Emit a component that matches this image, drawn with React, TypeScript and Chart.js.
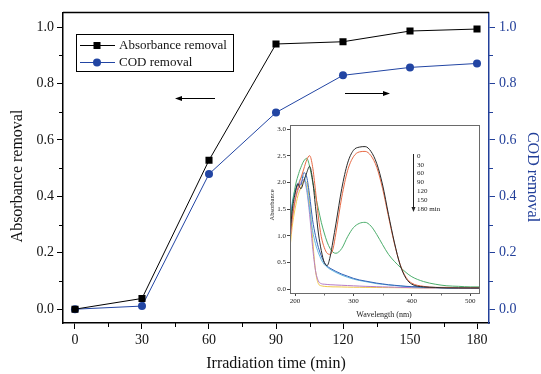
import React, { useEffect, useRef } from "react";
import { Chart, registerables } from "chart.js";
Chart.register(...registerables);

// ---- main chart data ----
const times = [0, 30, 60, 90, 120, 150, 180];
const absorbanceRemoval = [0, 0.038, 0.528, 0.94, 0.948, 0.986, 0.993];
const codRemoval = [0, 0.011, 0.479, 0.697, 0.829, 0.857, 0.871];
const xMajorTicks = [0, 30, 60, 90, 120, 150, 180];
const xMinorTicks = [15, 45, 75, 105, 135, 165];
const yMajorTicks = [0, 0.2, 0.4, 0.6, 0.8, 1.0];
const yMinorTicks = [0.1, 0.3, 0.5, 0.7, 0.9];

// ---- inset spectra data ----
const wavelengths = [190, 195, 200, 205, 210, 215, 220, 225, 230, 235, 240, 245, 250, 255, 260, 265, 270, 280, 290, 300, 310, 320, 330, 340, 350, 360, 370, 380, 390, 400, 420, 440, 460, 480, 500, 515];
const spec0 = [0.8, 1.45, 1.78, 1.97, 1.88, 2.02, 2.18, 2.3, 2.05, 1.55, 1.05, 0.72, 0.5, 0.44, 0.6, 0.9, 1.22, 1.88, 2.36, 2.6, 2.66, 2.67, 2.58, 2.35, 1.95, 1.4, 0.88, 0.45, 0.2, 0.09, 0.04, 0.03, 0.02, 0.02, 0.02, 0.02];
const spec30 = [0.75, 1.3, 1.65, 1.9, 2.08, 2.25, 2.42, 2.5, 2.3, 1.85, 1.35, 0.98, 0.78, 0.67, 0.65, 0.75, 1.05, 1.72, 2.22, 2.48, 2.57, 2.58, 2.5, 2.28, 1.88, 1.36, 0.86, 0.46, 0.22, 0.11, 0.05, 0.03, 0.03, 0.02, 0.02, 0.02];
const spec60 = [0.85, 1.5, 1.9, 2.12, 2.28, 2.4, 2.45, 2.3, 2.02, 1.75, 1.5, 1.25, 1.05, 0.88, 0.76, 0.69, 0.67, 0.76, 0.98, 1.15, 1.23, 1.25, 1.18, 1.02, 0.83, 0.65, 0.52, 0.41, 0.31, 0.23, 0.14, 0.09, 0.06, 0.05, 0.04, 0.04];
const spec90 = [0.9, 1.55, 1.8, 1.98, 1.95, 2.18, 2.1, 1.75, 1.3, 1.0, 0.78, 0.62, 0.5, 0.43, 0.39, 0.36, 0.33, 0.28, 0.24, 0.2, 0.17, 0.15, 0.13, 0.11, 0.095, 0.08, 0.07, 0.06, 0.05, 0.045, 0.035, 0.028, 0.022, 0.017, 0.013, 0.012];
const spec120 = [0.95, 1.6, 1.85, 1.95, 2.08, 2.1, 1.9, 1.5, 1.1, 0.85, 0.68, 0.55, 0.46, 0.41, 0.37, 0.34, 0.31, 0.26, 0.22, 0.185, 0.16, 0.14, 0.12, 0.1, 0.088, 0.076, 0.066, 0.056, 0.048, 0.042, 0.032, 0.025, 0.02, 0.016, 0.012, 0.011];
const spec150 = [0.7, 1.3, 1.65, 1.85, 2.0, 2.05, 1.85, 1.4, 0.8, 0.35, 0.15, 0.1, 0.09, 0.085, 0.08, 0.078, 0.075, 0.07, 0.065, 0.06, 0.055, 0.05, 0.047, 0.043, 0.04, 0.037, 0.034, 0.03, 0.028, 0.025, 0.02, 0.018, 0.015, 0.013, 0.012, 0.012];
const spec180 = [0.6, 1.15, 1.5, 1.75, 1.9, 2.02, 2.0, 1.6, 0.95, 0.35, 0.1, 0.06, 0.05, 0.045, 0.043, 0.04, 0.04, 0.038, 0.035, 0.033, 0.032, 0.03, 0.03, 0.028, 0.027, 0.026, 0.025, 0.024, 0.023, 0.022, 0.021, 0.02, 0.02, 0.02, 0.02, 0.02];
const spectra = [spec0, spec30, spec60, spec90, spec120, spec150, spec180];
const specLabels = ["0", "30", "60", "90", "120", "150", "180 min"];
const insetXMajor = [200, 300, 400, 500];
const insetXMinor = [250, 350, 450];
const insetYMajor = [0, 0.5, 1.0, 1.5, 2.0, 2.5, 3.0];

// ---- styles ----
const SERIF = '"Liberation Serif", "Times New Roman", serif';
const BLUE = "#2245a3";
const AXIS_BLUE = "#23409a";
const specColors = ["#2a2a2a", "#e86a45", "#4cae6c", "#3563b8", "#62b8e2", "#b67cc6", "#f1c84a"];

export default function App() {
  const mainRef = useRef<HTMLCanvasElement>(null);
  const insetRef = useRef<HTMLCanvasElement>(null);

  useEffect(() => {
    const mainDecor = {
      id: "mainDecor",
      afterDraw(chart: any) {
        const ctx = chart.ctx;
        const a = chart.chartArea;
        const xs = chart.scales.x;
        const ys = chart.scales.y;
        ctx.save();
        // top frame
        ctx.strokeStyle = "#000";
        ctx.lineWidth = 1.5;
        ctx.beginPath();
        ctx.moveTo(a.left, a.top);
        ctx.lineTo(a.right, a.top);
        ctx.stroke();
        // minor ticks
        ctx.lineWidth = 1;
        ctx.beginPath();
        xMinorTicks.forEach((v) => {
          const px = Math.round(xs.getPixelForValue(v)) + 0.5;
          ctx.moveTo(px, a.bottom);
          ctx.lineTo(px, a.bottom + 4);
        });
        yMinorTicks.forEach((v) => {
          const py = Math.round(ys.getPixelForValue(v)) + 0.5;
          ctx.moveTo(a.left - 4, py);
          ctx.lineTo(a.left, py);
        });
        ctx.stroke();
        ctx.strokeStyle = AXIS_BLUE;
        ctx.beginPath();
        yMinorTicks.forEach((v) => {
          const py = Math.round(chart.scales.y2.getPixelForValue(v)) + 0.5;
          ctx.moveTo(a.right, py);
          ctx.lineTo(a.right + 4, py);
        });
        ctx.stroke();

        // legend box
        ctx.strokeStyle = "#000";
        ctx.lineWidth = 1;
        ctx.strokeRect(76.5, 34.5, 157, 37);
        ctx.beginPath();
        ctx.moveTo(80, 45.5);
        ctx.lineTo(115, 45.5);
        ctx.stroke();
        ctx.fillStyle = "#000";
        ctx.fillRect(93.5, 42, 7, 7);
        ctx.strokeStyle = BLUE;
        ctx.beginPath();
        ctx.moveTo(80, 62.5);
        ctx.lineTo(115, 62.5);
        ctx.stroke();
        ctx.fillStyle = BLUE;
        ctx.beginPath();
        ctx.arc(97, 62.5, 4, 0, Math.PI * 2);
        ctx.fill();
        ctx.fillStyle = "#111";
        ctx.font = `13px ${SERIF}`;
        ctx.textAlign = "left";
        ctx.textBaseline = "middle";
        ctx.fillText("Absorbance removal", 119, 45.5);
        ctx.fillText("COD removal", 119, 62.5);

        // arrows
        ctx.strokeStyle = "#000";
        ctx.fillStyle = "#000";
        ctx.beginPath();
        ctx.moveTo(179, 98.5);
        ctx.lineTo(215, 98.5);
        ctx.stroke();
        ctx.beginPath();
        ctx.moveTo(175, 98.5);
        ctx.lineTo(182, 96);
        ctx.lineTo(182, 101);
        ctx.closePath();
        ctx.fill();
        ctx.beginPath();
        ctx.moveTo(345, 93.5);
        ctx.lineTo(385, 93.5);
        ctx.stroke();
        ctx.beginPath();
        ctx.moveTo(390, 93.5);
        ctx.lineTo(383, 91);
        ctx.lineTo(383, 96);
        ctx.closePath();
        ctx.fill();

        // axis titles
        ctx.font = `16px ${SERIF}`;
        ctx.textAlign = "center";
        ctx.textBaseline = "middle";
        ctx.fillStyle = "#111";
        ctx.fillText("Irradiation time (min)", 276, 364);
        ctx.save();
        ctx.translate(18, 176);
        ctx.rotate(-Math.PI / 2);
        ctx.fillText("Absorbance removal", 0, 0);
        ctx.restore();
        ctx.save();
        ctx.translate(532, 177);
        ctx.rotate(Math.PI / 2);
        ctx.fillStyle = AXIS_BLUE;
        ctx.fillText("COD removal", 0, 0);
        ctx.restore();
        ctx.restore();
      },
    };

    const tickFont = { family: SERIF, size: 14 };
    const main = new Chart(mainRef.current!, {
      type: "line",
      data: {
        datasets: [
          {
            label: "Absorbance removal",
            data: times.map((t, i) => ({ x: t, y: absorbanceRemoval[i] })),
            yAxisID: "y",
            borderColor: "#000",
            backgroundColor: "#000",
            borderWidth: 1,
            pointStyle: "rect",
            pointRadius: 5,
            pointBorderWidth: 0,
          },
          {
            label: "COD removal",
            data: times.map((t, i) => ({ x: t, y: codRemoval[i] })),
            yAxisID: "y2",
            borderColor: BLUE,
            backgroundColor: BLUE,
            borderWidth: 1,
            pointStyle: "circle",
            pointRadius: 4,
            pointBorderWidth: 0,
          },
        ],
      },
      options: {
        responsive: false,
        animation: false,
        devicePixelRatio: 1,
        layout: { padding: { top: 8, left: 0, right: 0, bottom: 0 } },
        plugins: { legend: { display: false }, tooltip: { enabled: false } },
        scales: {
          x: {
            type: "linear",
            min: -5.37,
            max: 185.37,
            afterBuildTicks: (s: any) => {
              s.ticks = xMajorTicks.map((v) => ({ value: v }));
            },
            afterFit: (s: any) => {
              s.height = 51;
            },
            grid: { drawOnChartArea: false, drawTicks: true, tickLength: 6, tickColor: "#000" },
            border: { display: true, color: "#000", width: 1.5 },
            ticks: { font: tickFont, color: "#111", padding: 3, maxRotation: 0 },
          },
          y: {
            type: "linear",
            position: "left",
            min: -0.049,
            max: 1.052,
            afterBuildTicks: (s: any) => {
              s.ticks = yMajorTicks.map((v) => ({ value: v }));
            },
            afterFit: (s: any) => {
              s.width = 63;
            },
            grid: { drawOnChartArea: false, drawTicks: true, tickLength: 6, tickColor: "#000" },
            border: { display: true, color: "#000", width: 1.5 },
            ticks: { font: tickFont, color: "#111", padding: 3, callback: (v: any) => Number(v).toFixed(1) },
          },
          y2: {
            type: "linear",
            position: "right",
            min: -0.049,
            max: 1.052,
            afterBuildTicks: (s: any) => {
              s.ticks = yMajorTicks.map((v) => ({ value: v }));
            },
            afterFit: (s: any) => {
              s.width = 52;
            },
            grid: { drawOnChartArea: false, drawTicks: true, tickLength: 6, tickColor: AXIS_BLUE },
            border: { display: true, color: AXIS_BLUE, width: 1.5 },
            ticks: { font: tickFont, color: AXIS_BLUE, padding: 4, callback: (v: any) => Number(v).toFixed(1) },
          },
        },
      },
      plugins: [mainDecor],
    } as any);

    const insetDecor = {
      id: "insetDecor",
      beforeDraw(chart: any) {
        const ctx = chart.ctx;
        const a = chart.chartArea;
        ctx.save();
        ctx.fillStyle = "#fff";
        ctx.fillRect(a.left, a.top, a.right - a.left, a.bottom - a.top);
        ctx.restore();
      },
      afterDraw(chart: any) {
        const ctx = chart.ctx;
        const a = chart.chartArea;
        const xs = chart.scales.x;
        ctx.save();
        ctx.strokeStyle = "#6a6a6a";
        ctx.lineWidth = 1;
        ctx.strokeRect(Math.round(a.left) + 0.5, Math.round(a.top) + 0.5, Math.round(a.right - a.left), Math.round(a.bottom - a.top));
        ctx.beginPath();
        insetXMinor.forEach((v) => {
          const px = Math.round(xs.getPixelForValue(v)) + 0.5;
          ctx.moveTo(px, a.bottom);
          ctx.lineTo(px, a.bottom + 2.5);
        });
        ctx.stroke();
        // time legend
        ctx.strokeStyle = "#222";
        ctx.beginPath();
        ctx.moveTo(145.5, 38);
        ctx.lineTo(145.5, 93);
        ctx.stroke();
        ctx.fillStyle = "#222";
        ctx.beginPath();
        ctx.moveTo(145.5, 96);
        ctx.lineTo(143.5, 91);
        ctx.lineTo(147.5, 91);
        ctx.closePath();
        ctx.fill();
        ctx.font = `7px ${SERIF}`;
        ctx.textAlign = "left";
        ctx.textBaseline = "middle";
        specLabels.forEach((t, i) => {
          ctx.fillText(t, 149, 40 + i * 8.8);
        });
        // titles
        ctx.font = `8px ${SERIF}`;
        ctx.textAlign = "center";
        ctx.fillText("Wavelength (nm)", 116, 199);
        ctx.save();
        ctx.translate(4.5, 89);
        ctx.rotate(-Math.PI / 2);
        ctx.font = `6.5px ${SERIF}`;
        ctx.fillText("Absorbance", 0, 0);
        ctx.restore();
        ctx.restore();
      },
    };

    const insetFont = { family: SERIF, size: 7 };
    const inset = new Chart(insetRef.current!, {
      type: "line",
      data: {
        datasets: spectra.map((s, k) => ({
          label: specLabels[k],
          data: wavelengths.map((w, i) => ({ x: w, y: s[i] })),
          borderColor: specColors[k],
          backgroundColor: specColors[k],
          borderWidth: 1,
          pointRadius: 0,
          cubicInterpolationMode: "monotone",
        })),
      },
      options: {
        responsive: false,
        animation: false,
        devicePixelRatio: 1,
        layout: { padding: { top: 9, left: 0, right: 4, bottom: 0 } },
        plugins: { legend: { display: false }, tooltip: { enabled: false } },
        scales: {
          x: {
            type: "linear",
            min: 191.4,
            max: 515,
            afterBuildTicks: (s: any) => {
              s.ticks = insetXMajor.map((v) => ({ value: v }));
            },
            afterFit: (s: any) => {
              s.height = 29;
            },
            grid: { drawOnChartArea: false, drawTicks: true, tickLength: 3, tickColor: "#444" },
            border: { display: true, color: "#6a6a6a", width: 1 },
            ticks: { font: insetFont, color: "#222", padding: 1, maxRotation: 0 },
          },
          y: {
            type: "linear",
            position: "left",
            min: -0.075,
            max: 3.075,
            afterBuildTicks: (s: any) => {
              s.ticks = insetYMajor.map((v) => ({ value: v }));
            },
            afterFit: (s: any) => {
              s.width = 22;
            },
            grid: { drawOnChartArea: false, drawTicks: true, tickLength: 3, tickColor: "#444" },
            border: { display: true, color: "#6a6a6a", width: 1 },
            ticks: { font: insetFont, color: "#222", padding: 1, callback: (v: any) => Number(v).toFixed(1) },
          },
        },
      },
      plugins: [insetDecor],
    } as any);

    return () => {
      main.destroy();
      inset.destroy();
    };
  }, []);

  return (
    <div style={{ position: "absolute", left: 0, top: 0, width: 541, height: 374, background: "#fff" }}>
      <canvas ref={mainRef} width={541} height={374} style={{ position: "absolute", left: 0, top: 0, width: 541, height: 374 }} />
      <canvas ref={insetRef} width={215} height={206} style={{ position: "absolute", left: 268, top: 116, width: 215, height: 206 }} />
    </div>
  );
}
